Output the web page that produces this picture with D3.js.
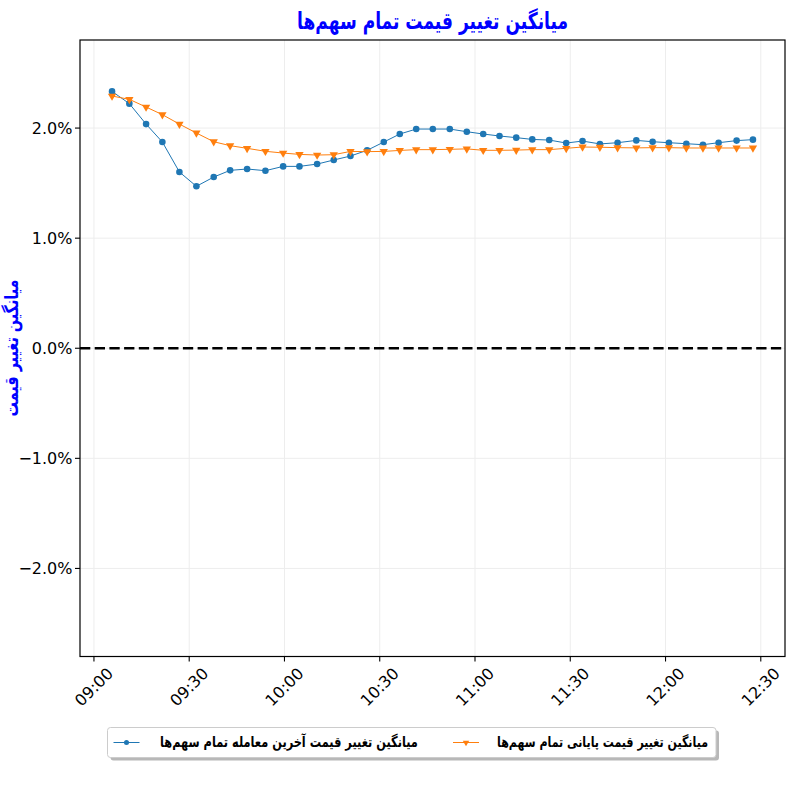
<!DOCTYPE html>
<html>
<head>
<meta charset="utf-8">
<script src="https://cdn.jsdelivr.net/npm/d3@7"></script>
<style>
  body { margin: 0; background: #fff; }
  svg { display: block; }
</style>
</head>
<body>
<svg id="chart" width="800" height="800"></svg>
<script>
// ---- data ----
const times = ["09:05:42","09:11:09","09:16:25","09:21:33","09:26:55","09:32:16","09:37:43","09:42:53","09:48:14","09:54:00",
  "09:59:35","10:04:43","10:10:17","10:15:31","10:20:47","10:26:02","10:31:16","10:36:19","10:41:29","10:46:43",
  "10:52:04","10:57:25","11:02:35","11:07:43","11:12:59","11:18:02","11:23:23","11:28:44","11:33:52","11:39:20",
  "11:44:54","11:50:48","11:55:56","12:01:04","12:06:33","12:11:47","12:16:43","12:22:23","12:27:32"];
const lastTradeChange = [2.333,2.222,2.036,1.873,1.601,1.471,1.555,1.616,1.628,1.613,
  1.652,1.652,1.673,1.710,1.746,1.798,1.873,1.946,1.991,1.991,
  1.991,1.967,1.946,1.928,1.913,1.897,1.891,1.864,1.882,1.856,
  1.867,1.888,1.876,1.867,1.858,1.849,1.867,1.886,1.895];
const closingChange = [2.291,2.261,2.191,2.122,2.036,1.955,1.876,1.840,1.816,1.789,
  1.773,1.761,1.755,1.758,1.788,1.786,1.788,1.797,1.804,1.804,
  1.807,1.811,1.798,1.798,1.800,1.804,1.804,1.816,1.828,1.826,
  1.822,1.820,1.822,1.822,1.819,1.819,1.819,1.819,1.819];
const xTickLabels = ["09:00","09:30","10:00","10:30","11:00","11:30","12:00","12:30"];
const yTickValues = [-2, -1, 0, 1, 2];
const yDomain = [-2.8, 2.8];
const titleText = "میانگین تغییر قیمت تمام سهم\u200cها";
const yLabelText = "میانگین تغییر قیمت";
const seriesNames = ["میانگین تغییر قیمت آخرین معامله تمام سهم\u200cها", "میانگین تغییر قیمت پایانی تمام سهم\u200cها"];

// ---- setup ----
const svg = d3.select("#chart");
const pL = 80, pR = 785, pT = 40, pB = 656.5;
const parse = d3.timeParse("%H:%M:%S");
const parseHM = d3.timeParse("%H:%M");
const dates = times.map(parse);
const ext = d3.extent(dates);
const span = ext[1] - ext[0];
const x = d3.scaleTime()
  .domain([new Date(+ext[0] - span * 0.05), new Date(+ext[1] + span * 0.05)])
  .range([pL, pR]);
const y = d3.scaleLinear().domain(yDomain).range([pB, pT]);
const xTicks = xTickLabels.map(parseHM);

const blue = "#1f77b4", orange = "#ff7f0e";
const persianFont = "'DejaVu Sans', sans-serif";

// fit font-size so the text has a given width
function fitWidth(sel, baseSize, targetW) {
  sel.attr("font-size", baseSize);
  const w = sel.node().getComputedTextLength();
  sel.attr("font-size", baseSize * targetW / w);
  return sel;
}

// grid
const grid = svg.append("g");
grid.selectAll("line.xg").data(xTicks).enter().append("line")
  .attr("x1", d => x(d)).attr("x2", d => x(d)).attr("y1", pT).attr("y2", pB)
  .attr("stroke", "#ededed").attr("stroke-width", 1);
grid.selectAll("line.yg").data(yTickValues).enter().append("line")
  .attr("x1", pL).attr("x2", pR).attr("y1", d => y(d)).attr("y2", d => y(d))
  .attr("stroke", "#ededed").attr("stroke-width", 1);

// zero line
svg.append("line")
  .attr("x1", pL).attr("x2", pR).attr("y1", y(0)).attr("y2", y(0))
  .attr("stroke", "#000").attr("stroke-width", 2.6).attr("stroke-dasharray", "10.3,4.4");

// series
function drawSeries(values, color, markerType) {
  const data = dates.map((d, i) => [d, values[i]]);
  const line = d3.line().x(d => x(d[0])).y(d => y(d[1]));
  svg.append("path").datum(data).attr("d", line)
    .attr("fill", "none").attr("stroke", color).attr("stroke-width", 1);
  const sym = d3.symbol().type(markerType === "circle" ? d3.symbolCircle : d3.symbolTriangle).size(markerType === "circle" ? 34 : 30);
  svg.append("g").selectAll("path").data(data).enter().append("path")
    .attr("d", sym)
    .attr("transform", d => `translate(${x(d[0])},${y(d[1])})` + (markerType === "circle" ? "" : " rotate(180)"))
    .attr("fill", color);
}
drawSeries(lastTradeChange, blue, "circle");
drawSeries(closingChange, orange, "tri");

// frame
svg.append("rect").attr("x", pL).attr("y", pT).attr("width", pR - pL).attr("height", pB - pT)
  .attr("fill", "none").attr("stroke", "#000").attr("stroke-width", 1.2);

// y axis ticks
const yAx = svg.append("g");
yTickValues.forEach(v => {
  yAx.append("line").attr("x1", pL - 5).attr("x2", pL).attr("y1", y(v)).attr("y2", y(v))
    .attr("stroke", "#000").attr("stroke-width", 1.1);
  yAx.append("text").attr("x", pL - 7.5).attr("y", y(v)).attr("dy", "0.36em")
    .attr("text-anchor", "end").attr("font-family", "'DejaVu Sans', sans-serif").attr("font-size", 16)
    .attr("fill", "#000").text(d3.format(".1f")(v) + "%");
});

// x axis ticks
const xAx = svg.append("g");
xTicks.forEach((t, i) => {
  const xp = x(t);
  xAx.append("line").attr("x1", xp).attr("x2", xp).attr("y1", pB).attr("y2", pB + 5)
    .attr("stroke", "#000").attr("stroke-width", 1.1);
  const txt = xAx.append("text").attr("text-anchor", "middle").attr("dominant-baseline", "central")
    .attr("font-family", "'DejaVu Sans', sans-serif").attr("font-size", 16).attr("fill", "#000")
    .text(xTickLabels[i]);
  const L = txt.node().getComputedTextLength();
  const h = 12;
  const bh = (L + h) * Math.SQRT1_2;
  const yc = pB + 10 + bh / 2;
  txt.attr("x", xp).attr("y", yc).attr("transform", `rotate(-45,${xp},${yc})`);
});

// title
const title = svg.append("text").attr("x", 0).attr("y", 0)
  .attr("transform", "translate(432.5,29) scale(1,1.35)")
  .attr("text-anchor", "middle").attr("font-family", persianFont).attr("font-weight", "bold")
  .attr("fill", "#0000ff").text(titleText);
fitWidth(title, 22, 271);

// y label
const ylab = svg.append("text").attr("x", 0).attr("y", 0)
  .attr("transform", `translate(18,348) rotate(-90) scale(1,1.3)`)
  .attr("text-anchor", "middle").attr("font-family", persianFont).attr("font-weight", "bold")
  .attr("fill", "#0000ff").text(yLabelText);
fitWidth(ylab, 18, 137);

// legend
const lg = svg.append("g");
const lx = 107.5, ly = 727.5, lw = 608.5, lh = 30;
lg.append("rect").attr("x", lx + 3).attr("y", ly + 3).attr("width", lw).attr("height", lh).attr("rx", 3)
  .attr("fill", "#888").attr("opacity", 0.6);
lg.append("rect").attr("x", lx).attr("y", ly).attr("width", lw).attr("height", lh).attr("rx", 3)
  .attr("fill", "#fff").attr("stroke", "#cccccc").attr("stroke-width", 1);
const entries = [
  {name: seriesNames[0], color: blue, type: "circle", hx: 113.5, tx: 160, tw: 258},
  {name: seriesNames[1], color: orange, type: "tri", hx: 453, tx: 497, tw: 211}
];
const cy = ly + lh / 2;
entries.forEach(e => {
  lg.append("line").attr("x1", e.hx).attr("x2", e.hx + 26).attr("y1", cy).attr("y2", cy)
    .attr("stroke", e.color).attr("stroke-width", 1);
  const sym = d3.symbol().type(e.type === "circle" ? d3.symbolCircle : d3.symbolTriangle).size(e.type === "circle" ? 20 : 18);
  lg.append("path").attr("d", sym)
    .attr("transform", `translate(${e.hx + 13},${cy})` + (e.type === "circle" ? "" : " rotate(180)"))
    .attr("fill", e.color);
  const t = lg.append("text").attr("x", 0).attr("y", 0)
    .attr("transform", `translate(${e.tx},${cy + 4}) scale(1,1.3)`)
    .attr("text-anchor", "start").attr("font-family", persianFont).attr("font-weight", "bold")
    .attr("fill", "#000").text(e.name);
  fitWidth(t, 14, e.tw);
});
</script>
</body>
</html>
